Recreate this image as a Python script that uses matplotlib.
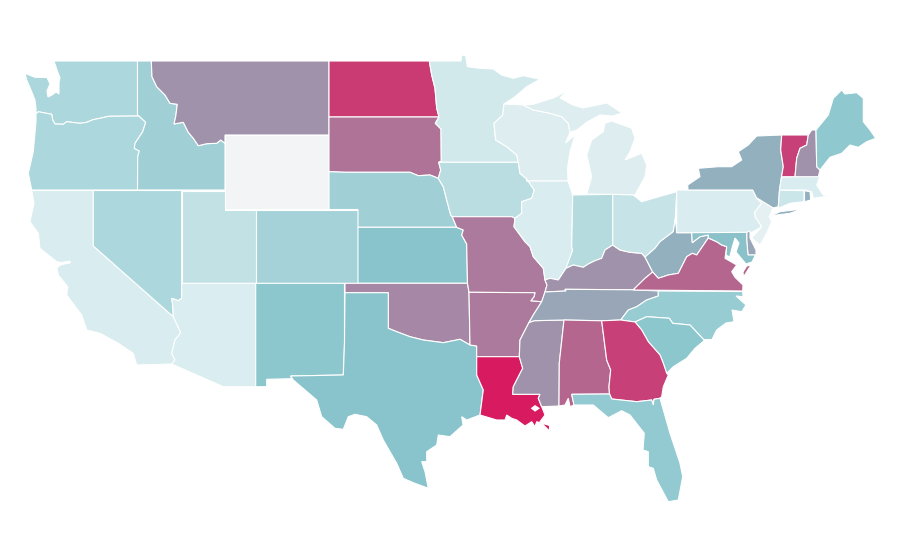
import matplotlib
matplotlib.use("Agg")
import matplotlib.pyplot as plt
from matplotlib.colors import LinearSegmentedColormap, Normalize
from matplotlib.patches import Polygon

# index per state, 0-100
STATES = ["WA", "OR", "CA", "ID", "NV", "UT", "AZ", "MT", "WY", "CO", "NM", "ND", "SD", "NE", "KS", "OK", "TX",
          "MN", "IA", "MO", "AR", "LA", "WI", "IL", "MS", "MI", "IN", "KY", "TN", "AL", "OH", "WV", "VA", "NC",
          "SC", "GA", "FL", "PA", "NY", "NJ", "DE", "MD", "CT", "RI", "MA", "VT", "NH", "ME"]
VALUES = [33, 33, 12, 39, 33, 23, 11, 65, 0, 37, 48, 91, 74, 39, 50, 68, 50,
          15, 27, 72, 72, 100, 10, 12, 65, 10, 29, 65, 59, 78, 21, 56, 78, 43,
          48, 89, 45, 12, 56, 6, 59, 51, 18, 56, 12, 89, 65, 47]
SCALE_STOPS = [0, 0.12, 0.5, 1]
SCALE_COLORS = ["#f2f4f6", "#d8ecef", "#89c5cc", "#d81b60"]

# ---- shared borders, in map units ----
WA_OR = [(139, 116), (108.7, 116.3), (100, 118.3), (93, 119.7), (86.7, 122.3), (80, 123.3), (66.7, 121.7),
         (63.3, 124.3), (55, 124), (52.7, 120), (51.7, 114.3), (43.3, 112.7), (38.3, 111.7), (36, 114)]
ID_OR = [(139, 116), (145.7, 122.3), (142.7, 131.7), (135, 143.3), (134.3, 148.3), (139.3, 151), (137.7, 156.7),
         (137.5, 190)]
ID_MT = [(151.3, 61), (152, 76.7), (156.7, 86.7), (165, 95), (170, 103.3), (177.3, 104.3), (175.7, 116.7),
         (174, 124), (183.3, 122.3), (188.3, 132.3), (193.3, 138.3), (198.3, 145.7), (206.7, 143.7), (216.7, 143.3),
         (220.7, 140), (225, 143.3)]
CA_NV = [(93.3, 190.5), (93.3, 246), (173.3, 316.7)]
NV_AZ = [(181.7, 283.3), (181.7, 298.3), (178.3, 300.7), (171.7, 298.3), (172.7, 305), (173.3, 316.7)]
CA_AZ = [(173.3, 316.7), (180.7, 332.7), (175, 340), (171.7, 353.3), (175, 360), (171.7, 364)]
ND_MN = [(429.3, 61), (431.7, 75), (435, 88.3), (436.7, 108.3), (439, 117)]
SD_MN = [(439, 117), (435.3, 123.3), (441, 129), (441.3, 161.7), (438.7, 162.3)]
SD_IA = [(438.7, 162.3), (440.7, 170), (438.3, 178.3)]
SD_NE = [(438.3, 178.3), (430, 175), (418.3, 175.7), (410, 172.3), (345, 172.3), (329, 171.7)]
NE_IA = [(438.3, 178.3), (443.3, 186.7), (446.7, 200), (450.7, 215), (452.3, 216.7)]
NE_MO = [(452.3, 216.7), (456.7, 227.3)]
KS_MO = [(456.7, 227.3), (463.3, 230), (461.7, 235), (466.7, 244), (467.5, 283.3)]
IA_MO = [(452.3, 216.7), (511.7, 216.7), (515, 218.3)]
MN_WI = [(504, 104), (502.7, 115), (494, 123.3), (495.7, 140), (506.7, 146.7), (516.7, 155), (518.3, 162.3)]
WI_IA = [(518.3, 162.3), (520, 173.3), (526.7, 179)]
IA_IL = [(526.7, 179), (534.3, 190), (531.7, 198.3), (521.7, 201.7), (521.7, 213.3), (515, 218.3)]
MO_IL = [(515, 218.3), (514, 226.7), (525, 241.7), (530, 246.7), (533.3, 256.7), (543.3, 268.3), (545, 280)]
IL_IN = [(572.7, 195), (571.7, 246.7), (572.7, 250), (566, 268.3)]
IL_KY = [(566, 268.3), (558.3, 280), (550, 278.3), (545, 280)]
IN_KY = [(612.7, 245), (605, 250), (601.7, 258.3), (595, 260.7), (588.3, 264), (583.3, 267.3), (573.3, 265),
         (566, 268.3)]
OH_KY = [(645, 257), (641.7, 253.3), (630, 252.3), (620, 250), (612.7, 245)]
OH_WV = [(675.3, 218.3), (673.3, 231.7), (660, 241.7), (655, 248.3), (645, 257)]
KY_WV = [(645, 257), (652.7, 272)]
KY_VA = [(652.7, 272), (645, 278.3), (633.3, 289.8)]
KY_TN = [(633.3, 289.8), (565, 289.3), (566, 291), (545, 292)]
MO_KY = [(545, 280), (547, 285), (545, 292)]
MO_TN = [(545, 292), (541.7, 301.7)]
AR_MO = [(541.7, 301.7), (530.7, 301), (534, 296.7), (535, 292.7), (469, 292.3)]
AR_TN = [(541.7, 301.7), (533.3, 315), (529, 322.5)]
TN_MS = [(529, 322.5), (534, 320.7), (564, 320)]
TN_AL = [(564, 320), (601.7, 320.8)]
TN_GA = [(601.7, 320.8), (620.7, 320)]
TN_NC = [(658.3, 291), (658.3, 296), (646.7, 300), (636.7, 306.7), (628.3, 310), (620.7, 320)]
VA_WV = [(652.7, 272), (658.3, 278.3), (668.3, 275), (678.3, 273.3), (686.7, 256.7), (692.3, 253.3), (696.7, 255),
         (708.3, 238)]
WV_MD = [(708.3, 235), (700, 236.7), (692.3, 242.7), (691.7, 232.7)]
AR_MS = [(529, 322.5), (520, 340), (519.3, 356.7)]
LA_MS = [(519.3, 356.7), (522.7, 368.3), (513.3, 386.7), (512.7, 394.3), (540, 394.3), (538.3, 398.3), (541.7, 406.7)]
TX_LA = [(476.7, 346), (476.7, 375), (483.3, 390), (480, 415)]
OK_TX = [(388.3, 292.7), (388.3, 328.3), (396.7, 331.7), (410, 336.7), (423.3, 340), (443.3, 342.7), (460, 339.3),
         (470, 345)]
AL_MS = [(564, 320), (559.3, 363), (559, 406)]
AL_GA = [(601.7, 320.8), (606.7, 360), (610.7, 370), (609, 386.7), (609.5, 394)]
AL_FL = [(609.5, 394), (571.7, 394.3), (574, 405)]
GA_FL = [(609.5, 394), (611.7, 399), (636.7, 401.7), (651.7, 400), (653.3, 405), (654, 399.3), (660, 398.3)]
GA_SC = [(635, 322), (641.7, 330), (648.3, 341.7), (660, 355), (663.3, 363.3), (666.7, 373.3)]
NC_SC = [(635, 322), (646.7, 316.7), (669.3, 318.3), (672.7, 323.3), (690, 325), (704, 340), (711.7, 340)]
NY_PA = [(688, 190), (752.7, 190), (756.7, 198)]
NY_NJ = [(756.7, 198), (773, 208)]
PA_NJ = [(756.7, 198), (761.7, 203.3), (755, 211.7), (755, 216.7), (761.7, 226.7), (751.7, 232.5)]
NY_VT = [(781.7, 135), (780.7, 150), (783.3, 166.7), (781.5, 177)]
NY_MA = [(781.5, 177), (779.5, 190)]
NY_CT = [(779.5, 190), (778.3, 206.7), (773, 208)]
VT_NH = [(808.3, 135), (806.7, 145), (800, 148.3), (796.7, 158.3), (795, 176.7)]
NH_ME = [(816, 130), (816.7, 166.7), (820, 170)]

# ---- state outlines ----
OUTLINES = {
    "WA": [[(54, 61), (137.5, 61), (137.5, 115)] + WA_OR +
           [(36, 108.3), (35, 100), (31.7, 91.7), (26.7, 80), (25, 73.3), (35, 77.3), (47, 77.5), (50, 84), (47, 91),
            (48, 97), (52, 95), (56, 92), (59, 94), (59, 82), (60, 78), (57, 70)]],
    "OR": [WA_OR[::-1] + ID_OR + [(31.7, 190), (28.3, 173.3), (33.3, 151.7), (36, 121.7)]],
    "CA": [[(31.7, 190.5)] + CA_NV + CA_AZ[1:] +
           [(136.7, 365), (133.3, 353.3), (118.3, 343.3), (100, 333.3), (86.7, 330), (81.7, 315), (66.7, 295),
            (67.7, 286.7), (58.3, 275), (57, 268), (59, 266), (62, 264.5), (70, 263), (70, 261), (62, 262.5), (58, 262),
            (56.7, 261.7), (40, 248.3), (38.3, 233.3), (30, 221.7), (34, 203.3)]],
    "ID": [[(137.5, 61)] + ID_MT + [(225, 190), (137.5, 190)] + ID_OR[::-1] + [(137.5, 115)]],
    "NV": [CA_NV + NV_AZ[::-1] + [(181.7, 190.5)]],
    "UT": [[(181.7, 190.5), (225, 190.5), (225, 209.5), (255.7, 209.5), (255.7, 283.3), (181.7, 283.3)]],
    "AZ": [NV_AZ + CA_AZ[1:] + [(223.3, 386.7), (255.7, 386.7), (255.7, 283.3)]],
    "MT": [ID_MT + [(225, 135), (329, 135), (329, 61)]],
    "WY": [[(225, 135), (329, 135), (329, 209), (225, 209)]],
    "CO": [[(255.7, 209.5), (358, 209.5), (358, 283.3), (255.7, 283.3)]],
    "NM": [[(255.7, 283.3), (344.5, 283.3), (344.5, 343.3), (343.3, 375), (290.7, 376), (291.7, 378.7), (266.7, 379.3),
            (266.7, 386.7), (255.7, 386.7)]],
    "ND": [[(329, 61)] + ND_MN + [(329, 117)]],
    "SD": [[(329, 117)] + SD_MN + SD_IA + SD_NE],
    "NE": [[(329, 171.7)] + SD_NE[::-1] + NE_IA + NE_MO + [(358, 227.3), (358, 209.5), (329, 209.5)]],
    "KS": [[(358, 227.3)] + KS_MO + [(358, 283.3)]],
    "OK": [[(345, 283.3), (467.5, 283.3), (469, 292.3), (470, 345)] + OK_TX[::-1] + [(345, 292.7)]],
    "TX": [[(345, 292.7)] + OK_TX + TX_LA +
           [(466.7, 420), (461.7, 416.7), (463, 425), (450, 436.7), (438.3, 435), (436.7, 445), (426.7, 451.7),
            (426.7, 461.7), (421.7, 461.7), (425, 471.7), (428.3, 488.3), (413.3, 482.7), (403.3, 478.3),
            (396.7, 463.3), (383.3, 440), (376.7, 425), (366.7, 416.7), (355, 414.3), (348.3, 416.7), (343.3, 429.3),
            (335, 428.3), (321.7, 416.7), (316.7, 400), (293.3, 380), (290.7, 376), (343.3, 375), (344.5, 343.3)]],
    "MN": [ND_MN + SD_MN[1:] +
           MN_WI[::-1] + [(515, 96.7), (526.7, 86.7), (540, 79.3), (523.3, 75.7), (513.3, 78.3), (501.7, 75), (493.3, 69),
                          (480, 68.3), (467.3, 66.7), (465.7, 55.7), (461.7, 55), (461, 61)]],
    "IA": [SD_IA + NE_IA + IA_MO + IA_IL[::-1] + WI_IA[::-1]],
    "MO": [NE_MO + KS_MO[1:] + [(469, 292.3)] + AR_MO[::-1] + MO_TN[::-1] + MO_KY[::-1] + MO_IL[::-1] + IA_MO[::-1]],
    "AR": [AR_MO[::-1] + AR_TN + AR_MS + [(476.7, 356.7), (476.7, 346), (470, 345)]],
    "LA": [[(476.7, 356.7), (519.3, 356.7)] + LA_MS[1:] +
           [(545, 415), (540, 421.7), (549.5, 431), (549.5, 425.5), (536.7, 421.7), (535, 426.7), (531.7, 421.7),
            (525, 426), (516.7, 420), (511.7, 418.3), (506.7, 415), (505, 420), (496.7, 420), (480, 415), (483.3, 390),
            (476.7, 375)]],
    "WI": [MN_WI + WI_IA + [(526.7, 181), (568, 181), (567.5, 168), (570, 152), (575, 135), (565.5, 143), (570, 132.3),
                            (568.3, 123.3), (561.7, 116.7), (550, 113.3), (533.3, 110), (523.3, 105)]],
    "IL": [[(526.7, 179), (526.7, 181), (568, 181), (572.7, 195)] + IL_IN + IL_KY + MO_IL[::-1] + IA_IL[::-1]],
    "MS": [TN_MS[1:] + AL_MS + [(541.7, 406.7)] + LA_MS[::-1] + AR_MS[::-1] + [(534, 320.7)]],
    "MI": [[(586.7, 194), (591.7, 176.7), (586.7, 155), (591.7, 140), (603.3, 131.7), (605, 123.3), (611.7, 121),
            (631.7, 128.3), (635, 138.3), (630, 151.7), (625, 160), (641.7, 153.3), (646.7, 165), (645, 176.7),
            (635, 195)],
           [(523.3, 105), (533.3, 104.3), (553, 98), (558, 95.7), (568, 90), (560, 98), (573, 105), (583, 108),
            (607, 103), (622, 113), (613, 116), (600, 115), (587, 122), (577, 130), (570, 132.3), (568.3, 123.3),
            (561.7, 116.7), (550, 113.3), (533.3, 110)]],
    "IN": [IL_IN + IN_KY[::-1] + [(612.7, 194.3)]],
    "KY": [[(545, 280)] + IL_KY[::-1] + IN_KY[::-1] + OH_KY[::-1] + KY_VA + KY_TN[1:] + MO_KY[::-1]],
    "TN": [KY_TN[::-1] + [(658.3, 291)] + TN_NC + TN_GA[::-1] + TN_AL[::-1] + TN_MS[::-1] + AR_TN[::-1] + MO_TN[::-1]],
    "AL": [TN_AL + AL_GA[1:] + AL_FL[1:] + [(570, 406.7), (568.3, 398.3), (565, 405), (559, 406)] + AL_MS[::-1]],
    "OH": [[(612.7, 194.3), (633.3, 195), (641.7, 201.7), (653.3, 198.3), (676.7, 191.7), (675.3, 218.3)] +
           OH_WV[1:] + OH_KY[1:]],
    "WV": [[(676.7, 232.7), (691.7, 232.7)] + WV_MD[::-1] + [(708.3, 238)] + VA_WV[::-1] + KY_WV[::-1] + OH_WV[::-1]],
    "VA": [KY_VA[::-1] + VA_WV[1:] + [(716.7, 241.7), (721.7, 245), (726.7, 246.7), (725, 258.3), (736.7, 265),
                                      (731.7, 271.7), (735, 277.3), (743, 285), (742.7, 291), (633.3, 290)],
           [(746.7, 266), (751, 265), (743.5, 277), (743, 272)]],
    "NC": [[(658.3, 291), (742.7, 291.5), (743, 296.7), (736, 296), (746, 305), (741.7, 311.7), (732, 310), (734, 321.7),
            (726, 323), (716.7, 330), (711.7, 340)] + NC_SC[::-1] + [(620.7, 320)] + TN_NC[::-1]],
    "SC": [GA_SC + [(673.3, 366.7), (686.7, 358.3), (695, 348.3), (705, 340), (711.7, 340)] + NC_SC[::-1]],
    "GA": [TN_GA + [(635, 322)] + GA_SC + [(668.3, 375), (663.3, 386.7), (661.7, 396.7), (660, 398.3)] + GA_FL[::-1] +
           AL_GA[::-1]],
    "FL": [AL_FL[::-1] + GA_FL[1:] +
           [(670, 433.3), (680, 463.3), (682.7, 476.7), (678.3, 500), (668.3, 501.7), (656.7, 480), (653.3, 468.3),
            (648.3, 466.7), (648.3, 451.7), (643, 450), (644.3, 433.3), (630, 415), (621.7, 410.7), (608.3, 417.7),
            (593.3, 405)]],
    "PA": [[(676.7, 190)] + NY_PA[1:] + PA_NJ[1:] + [(676.7, 232.7)]],
    "NY": [NY_PA[::-1][:-1] + [(688, 190), (687.7, 185), (700, 176.7), (698.3, 168.3), (718.3, 166.7), (731.7, 166.7),
                               (741.7, 160), (738.3, 151.7), (748.3, 145), (756.7, 136)] + NY_VT + NY_MA[1:] + NY_CT[1:],
           [(769, 216.7), (780, 211.7), (801.7, 209), (790, 213.3), (776.7, 215)]],
    "NJ": [NY_NJ + [(769.3, 216.7), (771.7, 221.7), (766.7, 233.3), (760, 245), (751.7, 238)] + PA_NJ[::-1][1:]],
    "DE": [[(746.7, 232.3), (750, 231), (750, 238), (756, 250), (756, 255), (748, 255), (746.7, 240)]],
    "MD": [[(691.7, 232.7), (746.7, 232.3), (746.7, 240), (748, 255), (755.5, 255), (752, 262), (746, 264), (741, 258),
            (736, 252), (739, 243), (735, 238), (732, 248), (730, 256), (733, 259), (726, 255), (726.7, 246.7),
            (721.7, 245), (716.7, 241.7), (708.3, 238), (708.3, 235), (700, 236.7), (692.3, 242.7)]],
    "CT": [[(779.5, 190), (804, 190.7), (804, 201.7), (790, 203.3), (778.3, 208.3), (778.3, 206.7)]],
    "RI": [[(804.5, 190.7), (810, 191.7), (810.7, 200), (804.5, 201.7)]],
    "MA": [[(781.5, 177), (820, 176), (816.7, 185), (823.3, 195), (830, 196), (820, 197.3), (813.3, 198.3), (811.7, 191.7),
            (805, 190), (779.5, 190)]],
    "VT": [[(781.7, 135), (808.3, 135)] + VT_NH[1:] + [(783.3, 176.7), (781.5, 177), (783.3, 166.7), (780.7, 150)]],
    "NH": [[(811.7, 130), (816, 130), (816.7, 166.7), (820, 170), (818.3, 176.7), (795, 176.7)] + VT_NH[::-1][1:]],
    "ME": [NH_ME + [(830, 157.3), (841.7, 153.3), (850, 145), (858.3, 147.3), (866.7, 141.7), (875.7, 138.3), (870, 130),
                    (863.3, 121.7), (863.3, 98.3), (856.7, 92.7), (845, 94), (841.7, 90), (833.3, 98.3), (828.3, 115)]],
}
PONTCHARTRAIN = [(530.7, 408.3), (535, 405), (540, 408.3), (535, 411.7)]

cmap = LinearSegmentedColormap.from_list("index", list(zip(SCALE_STOPS, SCALE_COLORS)))
norm = Normalize(0, 100)

fig = plt.figure(figsize=(9, 5.6), dpi=100)
ax = fig.add_axes([0, 0, 1, 1])
ax.set_xlim(0, 900)
ax.set_ylim(560, 0)
ax.axis("off")

for state, value in zip(STATES, VALUES):
    for ring in OUTLINES[state]:
        ax.add_patch(Polygon(ring, closed=True, facecolor=cmap(norm(value)), edgecolor="white", linewidth=0.8))
ax.add_patch(Polygon(PONTCHARTRAIN, closed=True, facecolor="white", edgecolor="none"))

fig.savefig("out.png", dpi=100)
